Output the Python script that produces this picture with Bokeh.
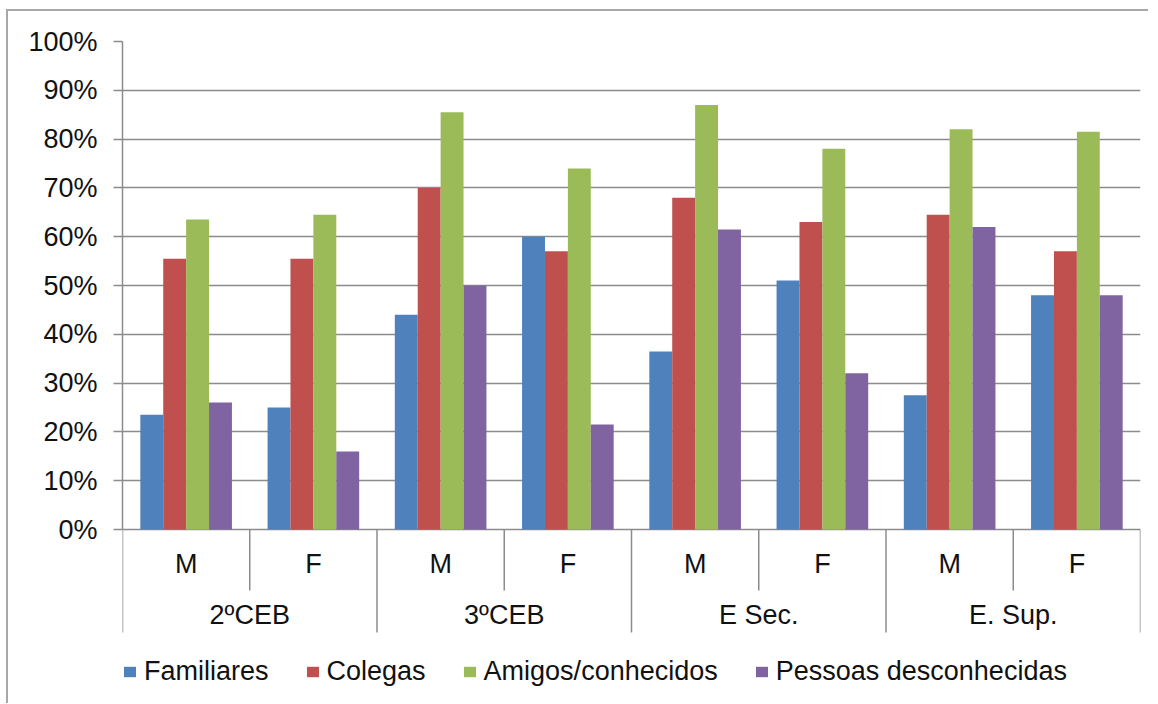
from bokeh.plotting import figure
from bokeh.models import (FactorRange, Range1d, FixedTicker, NumeralTickFormatter, Legend,
                          LegendItem, ColumnDataSource)
from bokeh.core.properties import value
from bokeh.transform import dodge
from bokeh.embed import file_html
from bokeh.resources import INLINE

groups = ["2ºCEB", "3ºCEB", "E Sec.", "E. Sup."]
sexes = ["M", "F"]
series = ["Familiares", "Colegas", "Amigos/conhecidos", "Pessoas desconhecidas"]
colors = ["#4F81BD", "#C0504D", "#9BBB59", "#8064A2"]

familiares = [0.235, 0.25, 0.44, 0.60, 0.365, 0.51, 0.275, 0.48]
colegas = [0.555, 0.555, 0.70, 0.57, 0.68, 0.63, 0.645, 0.57]
amigos = [0.635, 0.645, 0.855, 0.74, 0.87, 0.78, 0.82, 0.815]
desconhecidas = [0.26, 0.16, 0.50, 0.215, 0.615, 0.32, 0.62, 0.48]

factors = [(g, s) for g in groups for s in sexes]
source = ColumnDataSource(data=dict(x=factors, f=familiares, c=colegas, a=amigos, d=desconhecidas))

FONT = "Liberation Sans"
GRID = "#8c8c8c"
TXT = "#111111"
PX_PER_UNIT = 488          # pixels for 0% .. 100%
AXIS_AREA = 103            # category-axis band below 0%
BAND = 161                 # axis band + legend band below 0%
def px(v):
    return v / PX_PER_UNIT

p = figure(width=1140, height=692, frame_width=1018, frame_height=PX_PER_UNIT + BAND,
           output_backend="svg", toolbar_location=None,
           x_range=FactorRange(*factors, range_padding=0, group_padding=0, factor_padding=0),
           y_range=Range1d(-px(BAND), 1),
           min_border_left=114, min_border_right=8, min_border_top=30, min_border_bottom=13)
p.outline_line_color = None
p.styles = {"margin-left": "6px", "margin-top": "9px",
            "border-left": "2px solid #a8a8a8", "border-top": "2px solid #a8a8a8"}

cols = ["f", "c", "a", "d"]
offsets = [-0.27, -0.09, 0.09, 0.27]
items = []
for col, off, color, name in zip(cols, offsets, colors, series):
    r = p.vbar(x=dodge("x", off, range=p.x_range), top=col, width=0.18, source=source,
               fill_color=color, line_color=None)
    items.append(LegendItem(label=name, renderers=[r]))

# Excel-style category axis: separators and two rows of labels
n_sub = len(sexes)
bounds = list(range(len(factors) + 1))
lows = [-px(AXIS_AREA if b % n_sub == 0 else 61) for b in bounds]
p.segment(x0=bounds, y0=[0] * len(bounds), x1=bounds, y1=lows, line_color=GRID, line_width=1.5)

p.text(x=factors, y=[-px(34)] * len(factors), text=[s for g, s in factors],
       text_font=value(FONT), text_font_size="27px", text_color=TXT,
       text_align="center", text_baseline="middle")
p.text(x=groups, y=[-px(85)] * len(groups), text=groups,
       text_font=value(FONT), text_font_size="27px", text_color=TXT,
       text_align="center", text_baseline="middle")

p.xaxis.visible = False

p.yaxis.bounds = (0, 1)
p.yaxis.ticker = FixedTicker(ticks=[i / 10 for i in range(11)])
p.yaxis.formatter = NumeralTickFormatter(format="0%")
p.yaxis.axis_line_color = GRID
p.yaxis.axis_line_width = 1.5
p.yaxis.major_tick_line_color = GRID
p.yaxis.major_tick_line_width = 1.5
p.yaxis.major_tick_out = 9
p.yaxis.major_tick_in = 0
p.yaxis.minor_tick_line_color = None
p.yaxis.major_label_text_font = FONT
p.yaxis.major_label_text_font_size = "27px"
p.yaxis.major_label_text_color = TXT
p.yaxis.major_label_standoff = 16

p.ygrid.ticker = FixedTicker(ticks=[i / 10 for i in range(11)])
p.ygrid.grid_line_color = GRID
p.ygrid.grid_line_width = 1.5
p.xgrid.grid_line_color = None

legend = Legend(items=items, orientation="horizontal", location=(0, 3),
                label_text_font=FONT, label_text_font_size="27px", label_text_color=TXT,
                glyph_width=15, glyph_height=13, label_standoff=7, spacing=36,
                border_line_color=None, background_fill_alpha=0, padding=0, margin=0)
p.add_layout(legend, "center")

open("out.html", "w").write(file_html(p, INLINE))
